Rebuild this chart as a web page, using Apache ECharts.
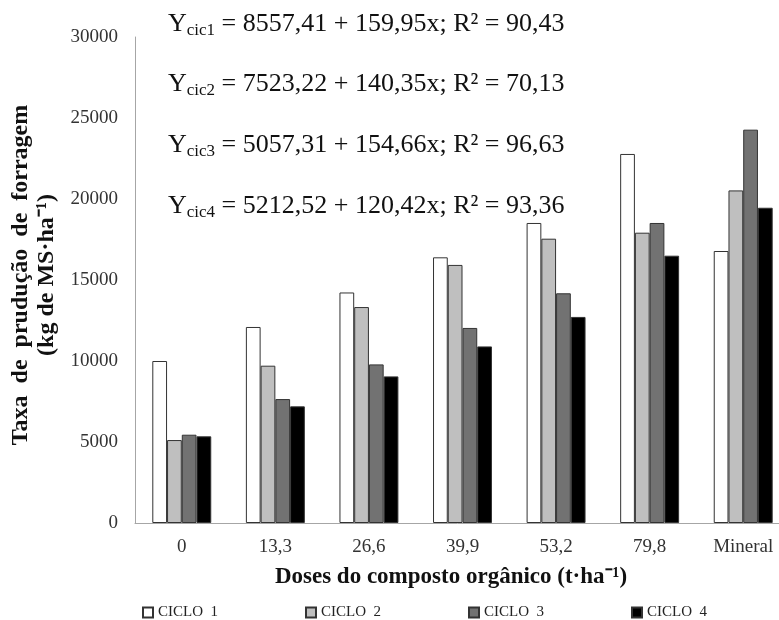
<!DOCTYPE html>
<html>
<head>
<meta charset="utf-8">
<script src="https://cdn.jsdelivr.net/npm/echarts@6/dist/echarts.min.js"></script>
<style>
html,body{margin:0;padding:0;background:#fff;}
#chart{width:779px;height:620px;}
</style>
</head>
<body>
<div id="chart"></div>
<script>
/*
* dados do gráfico
*/
var doses = ['0', '13,3', '26,6', '39,9', '53,2', '79,8', 'Mineral'];
var ciclo1 = [10000, 12100, 14230, 16400, 18520, 22780, 16790];
var ciclo2 = [5120, 9710, 13330, 15930, 17550, 17920, 20530];
var ciclo3 = [5450, 7650, 9790, 12040, 14180, 18520, 24280];
var ciclo4 = [5350, 7200, 9050, 10900, 12720, 16500, 19460];
var nomes = ['CICLO  1', 'CICLO  2', 'CICLO  3', 'CICLO  4'];
var cores = ['#ffffff', '#bfbfbf', '#727272', '#000000'];
var equacoes = [
  ['cic1', '8557,41 + 159,95x; R² = 90,43'],
  ['cic2', '7523,22 + 140,35x; R² = 70,13'],
  ['cic3', '5057,31 + 154,66x; R² = 96,63'],
  ['cic4', '5212,52 + 120,42x; R² = 93,36']
];
var yTicks = [0, 5000, 10000, 15000, 20000, 25000, 30000];

var fonte = '"Liberation Serif", "Times New Roman", serif';
var myChart = echarts.init(document.getElementById('chart'));

var dados = [ciclo1, ciclo2, ciclo3, ciclo4];
var series = [];
for (var i = 0; i < dados.length; i++) {
  series.push({
    name: nomes[i],
    type: 'bar',
    data: dados[i],
    barGap: '0%',
    barCategoryGap: '37%',
    itemStyle: {color: cores[i], borderColor: '#333', borderWidth: 1}
  });
}

//equações
var graficos = [];
var linhaY = [24, 84, 145, 206];
for (var j = 0; j < equacoes.length; j++) {
  graficos.push({
    type: 'text',
    x: 168,
    y: linhaY[j],
    style: {
      text: '{y|Y}{s|' + equacoes[j][0] + '}{t| = ' + equacoes[j][1] + '}',
      textVerticalAlign: 'middle',
      fill: '#111',
      rich: {
        y: {fontFamily: fonte, fontSize: 26, color: '#111', lineHeight: 30},
        s: {fontFamily: fonte, fontSize: 17, color: '#111', lineHeight: 30, padding: [14, 0, 0, 0]},
        t: {fontFamily: fonte, fontSize: 26, color: '#111', lineHeight: 30}
      }
    }
  });
}
//título do eixo y
graficos.push({
  type: 'text', x: 21, y: 275, rotation: Math.PI / 2,
  style: {text: 'Taxa  de  prudução  de  forragem', textAlign: 'center', textVerticalAlign: 'middle',
    font: 'bold 24px ' + fonte, fill: '#111'}
});
graficos.push({
  type: 'text', x: 47, y: 275, rotation: Math.PI / 2,
  style: {text: '(kg de MS·ha⁻¹)', textAlign: 'center', textVerticalAlign: 'middle',
    font: 'bold 24px ' + fonte, fill: '#111'}
});
//título do eixo x
graficos.push({
  type: 'text', x: 451, y: 577,
  style: {text: 'Doses do composto orgânico (t·ha⁻¹)', textAlign: 'center', textVerticalAlign: 'middle',
    font: 'bold 23px ' + fonte, fill: '#111'}
});

var option = {
  backgroundColor: '#fff',
  animation: false,
  grid: {left: 135, top: 37, right: -11, bottom: 97, containLabel: false, outerBoundsMode: 'none'},
  xAxis: {
    type: 'category',
    data: doses,
    axisLine: {lineStyle: {color: '#a6a6a6', width: 1}},
    axisTick: {show: false},
    axisLabel: {fontFamily: fonte, fontSize: 19, color: '#333', margin: 15}
  },
  yAxis: {
    type: 'value',
    min: yTicks[0],
    max: yTicks[yTicks.length - 1],
    interval: 5000,
    axisLine: {show: true, lineStyle: {color: '#a6a6a6', width: 1}},
    axisTick: {show: false},
    splitLine: {show: false},
    axisLabel: {fontFamily: fonte, fontSize: 19, color: '#333', margin: 17,
      formatter: function (v) { return String(v); }}
  },
  legend: {
    left: 137,
    top: 600,
    icon: 'rect',
    itemWidth: 10,
    itemHeight: 10,
    itemGap: 87,
    data: nomes,
    textStyle: {fontFamily: fonte, fontSize: 15, color: '#222'}
  },
  graphic: graficos,
  series: series
};
myChart.setOption(option);
</script>
</body>
</html>
